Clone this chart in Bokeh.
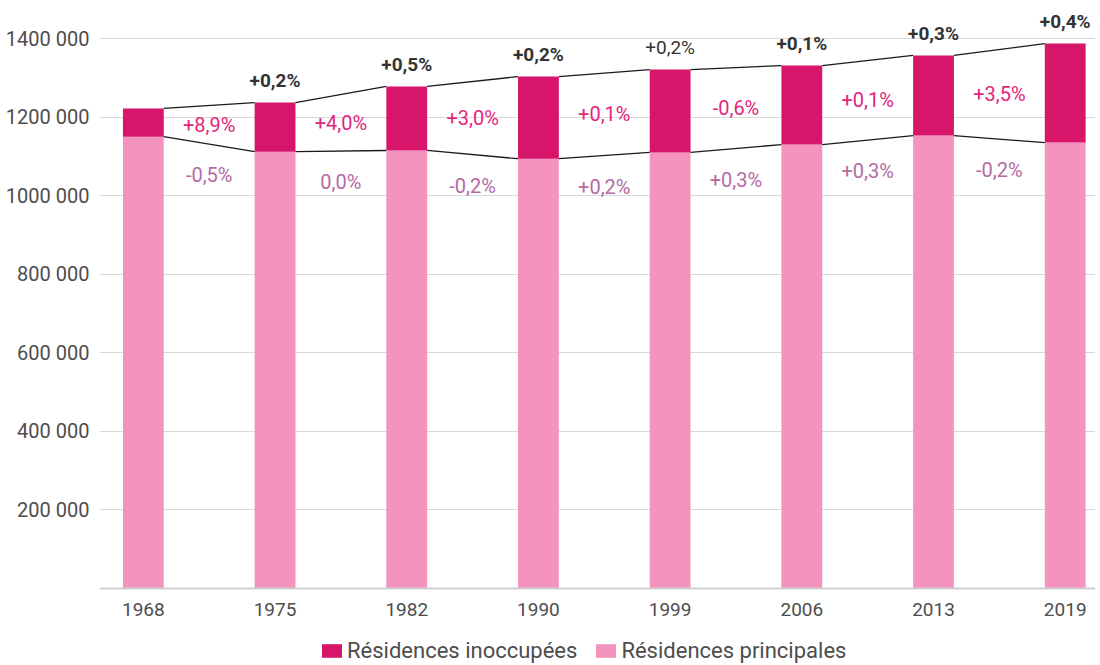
from bokeh.plotting import figure
from bokeh.models import ColumnDataSource, Range1d, FixedTicker, Legend, LegendItem
from bokeh.core.properties import value
from bokeh.embed import file_html
from bokeh.resources import INLINE

years = ["1968", "1975", "1982", "1990", "1999", "2006", "2013", "2019"]
principales = [1150000, 1112000, 1115000, 1094000, 1110000, 1130000, 1153000, 1135000]
inoccupees = [72000, 125000, 163000, 209000, 211000, 201000, 204000, 252000]
evol_total = ["", "+0,2%", "+0,5%", "+0,2%", "+0,2%", "+0,1%", "+0,3%", "+0,4%"]
evol_inocc = ["+8,9%", "+4,0%", "+3,0%", "+0,1%", "-0,6%", "+0,1%", "+3,5%"]
evol_princ = ["-0,5%", "0,0%", "-0,2%", "+0,2%", "+0,3%", "+0,3%", "-0,2%"]
y_ticks = [200000, 400000, 600000, 800000, 1000000, 1200000, 1400000]
y_labels = ["200 000", "400 000", "600 000", "800 000", "1000 000", "1200 000", "1400 000"]

FONT = value("Roboto")
DARK = "#d6156b"
LIGHT = "#f393be"
W = 0.31

n = len(years)
xs = list(range(n))
totals = [p + v for p, v in zip(principales, inoccupees)]

src = ColumnDataSource(dict(x=xs, princ=principales, total=totals, lab=evol_total,
                            style=["normal" if y == "1999" else "bold" for y in years]))

seg = ColumnDataSource(dict(
    x0=[i + W / 2 for i in range(n - 1)],
    x1=[i + 1 - W / 2 for i in range(n - 1)],
    t0=totals[:-1], t1=totals[1:],
    p0=principales[:-1], p1=principales[1:],
    xm=[i + 0.5 for i in range(n - 1)],
    ym=[(totals[i] + totals[i + 1] + principales[i] + principales[i + 1]) / 4 for i in range(n - 1)],
    yl=[(principales[i] + principales[i + 1]) / 2 for i in range(n - 1)],
    lm=evol_inocc, ll=evol_princ,
))

p = figure(frame_width=996, frame_height=655, output_backend="svg", toolbar_location=None,
           x_range=Range1d(-0.333, 7.23), y_range=Range1d(-190900, 1476400),
           min_border_left=99, min_border_right=0, min_border_top=8, min_border_bottom=0)
p.outline_line_color = None
p.background_fill_color = "white"

r_princ = p.vbar(x="x", width=W, bottom=0, top="princ", source=src, fill_color=LIGHT, line_color=None)
r_inocc = p.vbar(x="x", width=W, bottom="princ", top="total", source=src, fill_color=DARK, line_color=None)

p.segment(x0="x0", y0="t0", x1="x1", y1="t1", source=seg, line_color="#1a1a1a", line_width=1.3)
p.segment(x0="x0", y0="p0", x1="x1", y1="p1", source=seg, line_color="#1a1a1a", line_width=1.3)

p.text(x="x", y="total", text="lab", source=src, text_font=FONT, text_font_size="19px",
       text_font_style="style", text_color="#333333", text_align="center",
       text_baseline="middle", y_offset=-22)
p.text(x="xm", y="ym", text="lm", source=seg, text_font=FONT, text_font_size="20px",
       text_color="#e3267c", text_align="center", text_baseline="middle")
p.text(x="xm", y="yl", text="ll", source=seg, text_font=FONT, text_font_size="20px",
       text_color="#b56aa3", text_align="center", text_baseline="middle", y_offset=31)

p.xaxis.fixed_location = 0
p.xaxis.ticker = FixedTicker(ticks=xs)
p.xaxis.major_label_overrides = {i: y for i, y in enumerate(years)}
p.xaxis.major_tick_line_color = None
p.xaxis.minor_tick_line_color = None
p.xaxis.axis_line_color = "#cfcfcf"
p.xaxis.axis_line_width = 2
p.xaxis.major_label_text_font = "Roboto"
p.xaxis.major_label_text_font_size = "19px"
p.xaxis.major_label_text_color = "#4d4d4d"
p.xaxis.major_label_standoff = 8

p.yaxis.ticker = FixedTicker(ticks=y_ticks)
p.yaxis.major_label_overrides = dict(zip(y_ticks, y_labels))
p.yaxis.major_tick_line_color = None
p.yaxis.minor_tick_line_color = None
p.yaxis.axis_line_color = None
p.yaxis.major_label_text_font = "Roboto"
p.yaxis.major_label_text_font_size = "20px"
p.yaxis.major_label_text_color = "#4d4d4d"
p.yaxis.major_label_standoff = 4

p.xgrid.grid_line_color = None
p.ygrid.grid_line_color = "#d9d9d9"
p.ygrid.grid_line_width = 1

legend = Legend(items=[LegendItem(label="Résidences inoccupées", renderers=[r_inocc]),
                       LegendItem(label="Résidences principales", renderers=[r_princ])],
                orientation="horizontal", location=(220, 0),
                glyph_width=25, glyph_height=17, label_standoff=3, spacing=16,
                padding=0, margin=0, border_line_color=None, background_fill_alpha=0,
                label_text_font="Roboto", label_text_font_size="22px", label_text_color="#4d4d4d")
p.add_layout(legend)

open("out.html", "w").write(file_html(p, INLINE))
